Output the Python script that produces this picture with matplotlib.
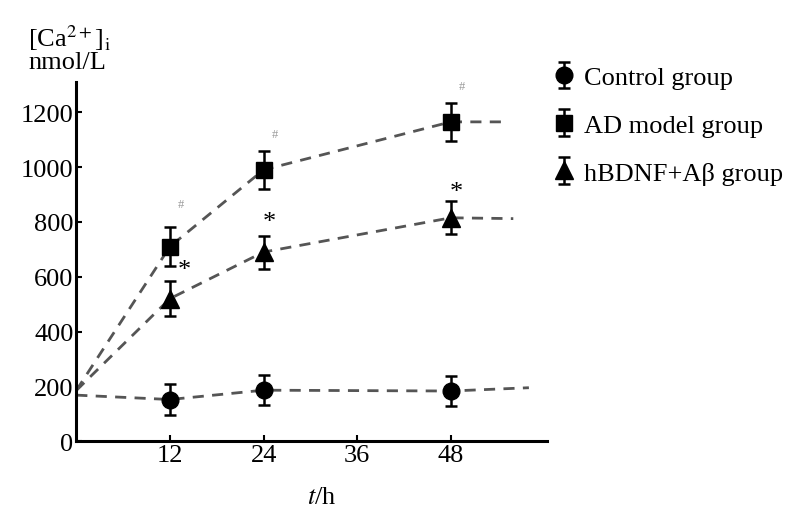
import matplotlib
matplotlib.use("Agg")
import matplotlib.pyplot as plt

plt.rcParams.update({"font.family": ["Liberation Serif", "DejaVu Serif"],
                     "mathtext.fontset": "stix"})

# time points (h); first and last are where the drawn curves start / stop
t_ctrl = [0, 12, 24, 48, 58]
ctrl = [168, 152, 186, 183, 195]
t_ad = [0, 12, 24, 48, 55]
ad = [185, 710, 990, 1165, 1165]
t_bd = [0, 12, 24, 48, 56]
bdnf = [185, 520, 690, 815, 812]

# measured points with SD
t_pts = [12, 24, 48]
ctrl_pts = [152, 186, 183]
ctrl_err = [55, 55, 55]
ad_pts = [710, 990, 1165]
ad_err = [70, 70, 70]
bd_pts = [520, 690, 815]
bd_err = [65, 60, 60]

labels = ["Control group", "AD model group", "hBDNF+A\u03b2 group"]

FS = 19
fig = plt.figure(figsize=(8.03, 5.10), dpi=100)
ax = fig.add_axes([0.095, 0.133, 0.586, 0.704])

LN = "#555555"
for tx, ys, tp, yp, ye, m, ms, lab in [(t_ctrl, ctrl, t_pts, ctrl_pts, ctrl_err, "o", 12, labels[0]),
                                       (t_ad, ad, t_pts, ad_pts, ad_err, "s", 12, labels[1]),
                                       (t_bd, bdnf, t_pts, bd_pts, bd_err, "^", 13, labels[2])]:
    ax.plot(tx, ys, ls=(0, (4, 3)), color=LN, lw=2, zorder=2)
    ax.errorbar(tp, yp, yerr=ye, fmt=m, color="black", ms=ms, capsize=4,
                elinewidth=1.8, capthick=1.8, zorder=3, label=lab)

# significance marks
for x, y in zip(t_pts, [865, 1120, 1295]):
    ax.text(x + 1.4, y, "#", fontsize=9, color="#999999", ha="center", va="center")
for x, y in zip(t_pts, [625, 800, 910]):
    ax.text(x + (1.8 if x == 12 else 0.7), y, "*", fontsize=19, ha="center", va="center")

ax.set_xlim(0, 60.3)
ax.set_ylim(0, 1310)
ax.set_xticks([12, 24, 36, 48])
ax.set_yticks(range(0, 1201, 200))
ax.tick_params(direction="in", length=4, width=1.5, labelsize=FS, pad=2)
ax.spines[["top", "right"]].set_visible(False)
for s in ["left", "bottom"]:
    ax.spines[s].set_linewidth(2.2)

fig.text(0.035, 0.925, "[Ca$^{2+}$]$_{\\rm i}$", fontsize=FS, va="center")
fig.text(0.035, 0.877, "nmol/L", fontsize=FS, va="center")
fig.text(0.4, 0.012, "$\\it{t}$/h", fontsize=FS, ha="center")

ax.legend(loc="upper left", bbox_to_anchor=(0.675, 0.89), bbox_transform=fig.transFigure,
          frameon=False, fontsize=FS, handlelength=0.9, handletextpad=0.3,
          labelspacing=0.92, borderaxespad=0)

fig.savefig("out.png", dpi=100, facecolor="white")
